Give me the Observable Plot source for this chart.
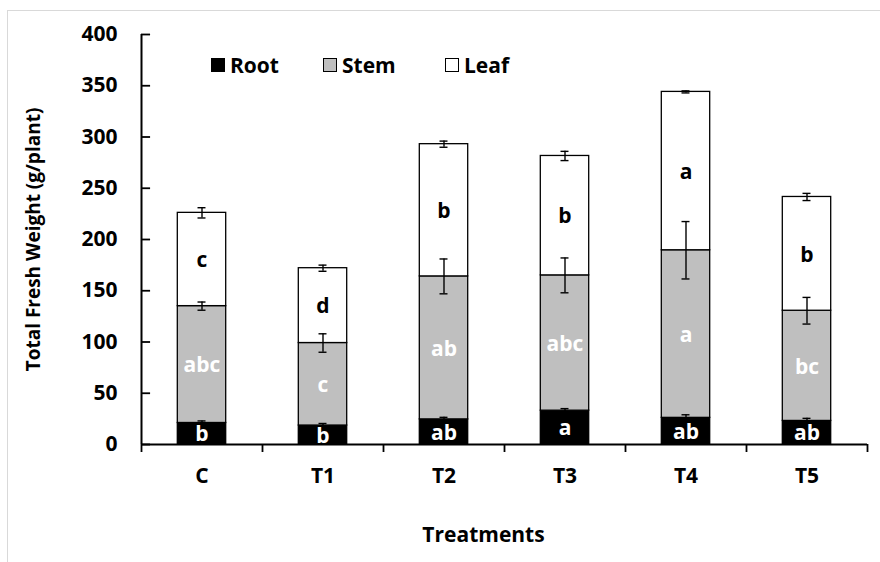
<!DOCTYPE html>
<html>
<head>
<meta charset="utf-8">
<script src="https://cdn.jsdelivr.net/npm/d3@7"></script>
<script src="https://cdn.jsdelivr.net/npm/@observablehq/plot@0.6"></script>
<style>
  html, body { margin: 0; padding: 0; background: #fff; }
  body { width: 880px; height: 562px; position: relative; overflow: hidden; font-family: "Open Sans", sans-serif; }
  #frame { position: absolute; left: 7px; top: 10px; right: -5px; bottom: -5px; border-left: 1.5px solid #d9d9d9; border-top: 1.5px solid #d9d9d9; pointer-events: none; }
  #chart { position: absolute; left: 0; top: 0; }
  .legend-item { position: absolute; top: 51px; display: flex; align-items: center; font-weight: 700; font-size: 21px; line-height: 28px; color: #000; }
  .legend-item .sw { width: 14px; height: 14px; border: 1px solid #000; margin-right: 5px; box-sizing: border-box; }
</style>
</head>
<body>
<div id="frame"></div>
<div id="chart"></div>
<script>
const categories = ["C", "T1", "T2", "T3", "T4", "T5"];
const parts = ["Root", "Stem", "Leaf"];
const partColors = ["#000000", "#bfbfbf", "#ffffff"];
const letterColors = ["#ffffff", "#ffffff", "#000000"];

const root = [21, 18.5, 24.5, 33, 26, 23];
const stem = [114, 80.5, 139.5, 132, 163.5, 107.5];
const leaf = [91, 73, 129, 116.5, 154.5, 111];

const rootErr = [2, 2, 2, 2, 3, 2.5];
const stemErr = [4, 9, 17, 17, 28, 13];
const leafErr = [5, 3, 3, 4.5, 1, 3.5];

const rootLetters = ["b", "b", "ab", "a", "ab", "ab"];
const stemLetters = ["abc", "c", "ab", "abc", "a", "bc"];
const leafLetters = ["c", "d", "b", "b", "a", "b"];

const yTicks = [0, 50, 100, 150, 200, 250, 300, 350, 400];

// build table
const rows = [];
categories.forEach((c, i) => {
  const vals = [root[i], stem[i], leaf[i]];
  const errs = [rootErr[i], stemErr[i], leafErr[i]];
  const lets = [rootLetters[i], stemLetters[i], leafLetters[i]];
  let base = 0;
  parts.forEach((p, k) => {
    rows.push({ i, cat: c, part: p, k, y1: base, y2: base + vals[k], err: errs[k], letter: lets[k] });
    base += vals[k];
  });
});

const barHalf = 0.2;   // bar half-width in band units
const capHalf = 0.033; // error cap half-width
const tickLen = 0.075; // inward y tick length

const chart = Plot.plot({
  width: 880,
  height: 562,
  marginLeft: 141,
  marginRight: 13,
  marginTop: 34,
  marginBottom: 118,
  style: { fontFamily: "Open Sans", background: "transparent", overflow: "visible", color: "#000" },
  x: { type: "linear", domain: [0, categories.length] },
  y: { domain: [0, 400] },
  marks: [
    Plot.rectY(rows, {
      x1: d => d.i + 0.5 - barHalf, x2: d => d.i + 0.5 + barHalf,
      y1: "y1", y2: "y2",
      fill: d => partColors[d.k], stroke: "#000", strokeWidth: 1.3
    }),
    Plot.ruleX(rows, { x: d => d.i + 0.5, y1: d => d.y2 - d.err, y2: d => d.y2 + d.err, stroke: "#000", strokeWidth: 1.4 }),
    Plot.ruleY(rows, { y: d => d.y2 + d.err, x1: d => d.i + 0.5 - capHalf, x2: d => d.i + 0.5 + capHalf, stroke: "#000", strokeWidth: 1.4 }),
    Plot.ruleY(rows, { y: d => d.y2 - d.err, x1: d => d.i + 0.5 - capHalf, x2: d => d.i + 0.5 + capHalf, stroke: "#000", strokeWidth: 1.4 }),
    Plot.text(rows, {
      x: d => d.i + 0.5, y: d => (d.y1 + d.y2) / 2, text: "letter", dy: 1,
      fill: d => letterColors[d.k], fontSize: 21, fontWeight: "bold", lineAnchor: "middle"
    }),
    // axes lines
    Plot.ruleY([0], { stroke: "#000", strokeWidth: 2 }),
    Plot.ruleX([0], { stroke: "#000", strokeWidth: 2 }),
    Plot.ruleY(yTicks, { x1: 0, x2: tickLen, stroke: "#000", strokeWidth: 1.8 }),
    Plot.axisY({ ticks: yTicks, tickSize: 0, tickPadding: 24, label: null, fontSize: 21, fontWeight: "bold" }),
    Plot.axisX({ ticks: d3.range(0, categories.length + 1), tickSize: 8, tickFormat: () => "", label: null, strokeWidth: 1.8 }),
    Plot.axisX({
      ticks: categories.map((c, i) => i + 0.5), tickSize: 0, tickPadding: 24,
      tickFormat: v => categories[Math.floor(v)], label: null, fontSize: 21, fontWeight: "bold"
    }),
    Plot.text(["Total Fresh Weight (g/plant)"], {
      frameAnchor: "left", dx: -108, rotate: -90, text: d => d,
      fontSize: 19, fontWeight: "bold", textAnchor: "middle", lineAnchor: "middle"
    }),
    Plot.text(["Treatments"], {
      frameAnchor: "bottom", dx: -21, dy: 91, text: d => d,
      fontSize: 21, fontWeight: "bold", textAnchor: "middle", lineAnchor: "middle"
    })
  ]
});
document.getElementById("chart").appendChild(chart);

// legend
const legendLeft = [211, 323, 445];
parts.forEach((p, k) => {
  const item = document.createElement("div");
  item.className = "legend-item";
  item.style.left = legendLeft[k] + "px";
  const sw = document.createElement("span");
  sw.className = "sw";
  sw.style.background = partColors[k];
  const t = document.createElement("span");
  t.textContent = p;
  item.appendChild(sw);
  item.appendChild(t);
  document.body.appendChild(item);
});
</script>
</body>
</html>
